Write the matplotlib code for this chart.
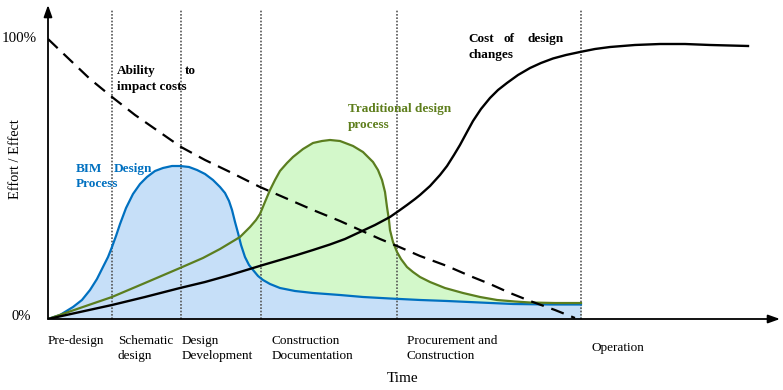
import matplotlib.pyplot as plt

# Values: time 0-100 along the x axis, effort 0-100 %
phase_lines = [8.74, 18.17, 29.10, 47.68, 72.81]
phase_labels = ["Pre-design", "Schematic\ndesign", "Design\nDevelopment",
                "Construction\nDocumentation", "Procurement and\nConstruction", "Operation"]
phase_label_t = [0, 9.56, 18.31, 30.6, 49.04, 74.3]

# Ability to impact costs (dashed)
ability_t = [0, 3.01, 5.74, 8.74, 11.89, 15.03, 18.17, 21.45, 24.86, 28.96, 33.06, 36.20,
             39.89, 42.62, 45.36, 47.68, 50.82, 54.51, 57.65, 60.38, 63.11, 65.85, 69.26, 71.99]
ability_e = [100, 92.5, 85.71, 79.29, 72.86, 67.14, 61.43, 56.79, 52.5, 47.14, 42.5, 38.93,
             35.0, 31.79, 28.57, 26.07, 22.5, 18.93, 15.36, 12.5, 9.29, 6.43, 3.21, 0.36]

# Cost of design changes
cost_t = [0, 4.37, 8.74, 13.25, 18.03, 21.45, 24.86, 29.37, 31.69, 34.02, 36.20, 38.52,
          40.57, 42.62, 44.67, 46.72, 48.09, 49.04, 50.14, 50.82, 52.19, 53.55, 54.51, 55.46,
          56.28, 57.24, 58.06, 59.15, 60.38, 61.48, 62.70, 64.21, 65.85, 67.35, 68.99, 70.77,
          72.68, 74.73, 76.78, 80.19, 83.61, 87.02, 90.44, 95.63]
cost_e = [0, 2.5, 5.0, 7.86, 11.07, 13.21, 15.71, 19.29, 21.07, 22.86, 24.64, 26.61,
          28.57, 31.07, 33.57, 36.43, 38.93, 40.71, 42.86, 44.29, 47.5, 51.43, 54.64, 58.57,
          62.14, 66.79, 70.71, 75.0, 78.93, 81.79, 84.29, 87.14, 89.64, 91.43, 93.04, 94.29,
          95.36, 96.43, 97.14, 97.86, 98.21, 98.21, 97.86, 97.5]

# BIM design process
bim_t = [0, 1.64, 3.42, 4.64, 5.74, 6.69, 7.51, 8.20, 8.74, 9.29, 9.84, 10.66, 11.61, 12.57,
         13.52, 14.62, 15.71, 16.94, 18.03, 19.26, 20.36, 21.45, 22.54, 23.50, 24.18, 24.73,
         25.14, 25.55, 25.96, 26.37, 26.91, 27.46, 28.01, 28.69, 29.37, 30.33, 31.69, 33.74,
         36.20, 39.89, 43.03, 46.72, 50.82, 54.51, 59.02, 63.52, 68.58, 72.81]
bim_e = [0, 1.43, 4.29, 6.79, 10.36, 14.29, 18.57, 22.14, 25.71, 29.64, 33.93, 39.64, 44.64, 48.21,
         50.71, 52.86, 53.93, 54.64, 54.64, 54.29, 53.21, 51.79, 49.64, 47.14, 45.0, 42.14,
         38.93, 34.64, 30.71, 26.43, 22.14, 19.29, 17.5, 15.36, 13.93, 12.5, 11.07, 10.0,
         9.29, 8.57, 7.86, 7.32, 6.79, 6.43, 5.89, 5.36, 5.18, 5.18]

# Traditional design process
trad_t = [0, 4.37, 8.74, 13.25, 18.03, 21.17, 23.50, 24.86, 26.23, 27.60, 28.42, 28.96, 29.64,
          30.33, 31.01, 31.69, 32.65, 33.47, 34.84, 36.20, 37.43, 38.52, 39.89, 41.67, 43.03,
          44.40, 45.08, 45.63, 46.04, 46.31, 46.58, 46.72, 47.13, 47.68, 48.22, 49.04, 49.86,
          50.82, 52.19, 54.23, 56.69, 59.02, 61.34, 63.80, 65.85, 69.26, 72.81]
trad_e = [0, 3.93, 7.86, 12.86, 18.21, 21.79, 25.0, 27.14, 29.29, 32.86, 35.36, 37.5, 41.79,
          46.07, 49.64, 52.86, 55.71, 57.86, 60.71, 62.86, 63.57, 63.93, 63.57, 61.79, 59.64,
          56.07, 53.21, 49.64, 45.36, 40.0, 35.36, 31.79, 27.5, 23.93, 21.43, 18.57, 16.79,
          15.0, 13.21, 11.07, 9.29, 7.86, 6.79, 6.25, 5.89, 5.71, 5.71]

blue = "#0070C0"
green = "#5B7E1F"
serif = "Liberation Serif"

fig = plt.figure(figsize=(7.83, 3.90), dpi=100)
ax = fig.add_axes([48 / 783, 71 / 390, 732 / 783, 314 / 390])
ax.set_xlim(0, 100)
ax.set_ylim(0, 112.14)
ax.axis("off")

# fills: green first, blue on top
ax.fill_between(trad_t, trad_e, color="#D3F8CA", lw=0, zorder=1)
ax.fill_between(bim_t, bim_e, color="#C6DFF8", lw=0, zorder=1)

# phase separators
for t in phase_lines:
    ax.plot([t, t], [0, 110.4], color="#555555", lw=1.2, linestyle=(0, (1, 1)), zorder=2)

ax.plot(bim_t, bim_e, color=blue, lw=1.6, zorder=3, solid_joinstyle="round")
ax.plot(trad_t, trad_e, color=green, lw=1.6, zorder=3, solid_joinstyle="round")
ax.plot(cost_t, cost_e, color="black", lw=1.7, zorder=4, solid_joinstyle="round")
ax.plot(ability_t, ability_e, color="black", lw=1.6, dashes=(6, 3.6), zorder=4)

# axes with arrow heads
arrow = dict(arrowstyle="-|>,head_length=0.7,head_width=0.25", color="black", lw=1.3,
             shrinkA=0, shrinkB=0)
ax.annotate("", xy=(0, 112.14), xytext=(0, 0), arrowprops=arrow, annotation_clip=False)
ax.annotate("", xy=(100, 0), xytext=(0, 0), arrowprops=arrow, annotation_clip=False)

# tick texts
ax.text(-1.6, 100, "100%", ha="right", va="center", fontsize=10.8, family=serif)
ax.text(-2.3, 1, "0%", ha="right", va="center", fontsize=10.5, family=serif)
ax.text(-4.5, 57.1, "Effort / Effect", rotation=90, ha="center", va="center",
        fontsize=10.3, family=serif)

for t, lab in zip(phase_label_t, phase_labels):
    y = -10.5 if "\n" in lab else -10.4
    if "\n" not in lab and lab != "Operation":
        y = -7.86
    ax.text(t, y, lab, ha="left", va="center", fontsize=9.5, family=serif, linespacing=1.25)
ax.text(48.4, -21.4, "Time", ha="center", va="center", fontsize=11, family=serif)

# curve labels
bold = dict(fontsize=9.5, family=serif, fontweight="bold", va="center", ha="left")
ax.text(9.43, 88.6, "Ability", color="black", **bold)
ax.text(18.72, 88.6, "to", color="black", **bold)
ax.text(9.43, 82.9, "impact costs", color="black", **bold)
ax.text(3.83, 53.6, "BIM", color=blue, **bold)
ax.text(9.02, 53.6, "Design", color=blue, **bold)
ax.text(3.83, 48.2, "Process", color=blue, **bold)
ax.text(40.98, 75.0, "Traditional design", color="#5E7E1C", **bold)
ax.text(40.98, 69.3, "process", color="#5E7E1C", **bold)
ax.text(57.38, 100.0, "Cost", color="black", **bold)
ax.text(62.16, 100.0, "of", color="black", **bold)
ax.text(65.44, 100.0, "design", color="black", **bold)
ax.text(57.38, 94.3, "changes", color="black", **bold)

fig.savefig("out.png", dpi=100)
